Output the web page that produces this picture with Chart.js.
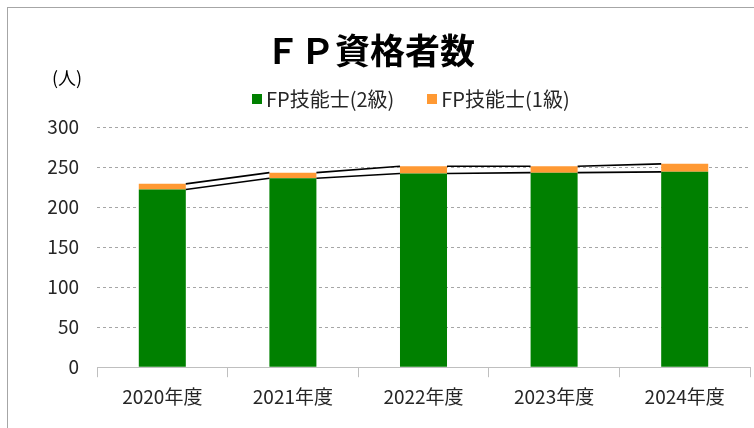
<!DOCTYPE html>
<html>
<head>
<meta charset="utf-8">
<script src="https://cdn.jsdelivr.net/npm/chart.js@4.4.1/dist/chart.umd.min.js"></script>
<style>
  html, body { margin: 0; padding: 0; background: #fff; overflow: hidden; }
  #wrap { position: relative; width: 754px; height: 428px; font-family: 'Noto Sans CJK JP', 'Noto Sans', sans-serif; color: #262626; }
  #wrap canvas { position: absolute; left: 0; top: 0; }
  .title { position: absolute; left: 0; width: 740px; top: 29px; line-height: 40px; text-align: center; font-size: 35px; font-weight: bold; color: #000; }
  .unit { position: absolute; left: 52px; top: 66px; line-height: 22px; font-size: 18px; color: #000; }
  .legend { position: absolute; left: 252px; top: 88px; display: flex; line-height: 22px; font-size: 20px; }
  .legend span.item { display: flex; align-items: center; margin-right: 33px; }
  .legend i { display: inline-block; width: 10px; height: 10px; margin-right: 4px; }
</style>
</head>
<body>
<div id="wrap">
  <canvas id="fpChart" width="754" height="428"></canvas>
  <div class="title">ＦＰ資格者数</div>
  <div class="unit">(人)</div>
  <div class="legend" id="legend"></div>
</div>
<script>
// data
const years = ['2020年度', '2021年度', '2022年度', '2023年度', '2024年度'];
const grade2 = [222, 236, 242, 243, 244];
const grade1 = [7, 7, 9, 8, 10];
const yTicks = [0, 50, 100, 150, 200, 250, 300];

const FONT = "'Noto Sans CJK JP', 'Noto Sans', sans-serif";
const TEXT = '#262626';

// outer frame
const framePlugin = {
    id: 'frame',
    beforeDraw(chart) {
        const ctx = chart.ctx;
        ctx.save();
        ctx.fillStyle = '#fff';
        ctx.fillRect(0, 0, chart.width, chart.height);
        ctx.strokeStyle = '#a6a6a6';
        ctx.lineWidth = 1;
        ctx.strokeRect(7.5, 7.5, 900, 600);
        ctx.restore();
    }
};

// Excel-style series lines between stacked bar tops
const seriesLines = {
    id: 'seriesLines',
    afterDatasetsDraw(chart) {
        const ctx = chart.ctx;
        ctx.save();
        ctx.strokeStyle = '#000';
        ctx.lineWidth = 1.6;
        chart.data.datasets.forEach((ds, di) => {
            const bars = chart.getDatasetMeta(di).data;
            for (let i = 0; i < bars.length - 1; i++) {
                const a = bars[i], b = bars[i + 1];
                ctx.beginPath();
                ctx.moveTo(a.x + a.width / 2, a.y);
                ctx.lineTo(b.x - b.width / 2, b.y);
                ctx.stroke();
            }
        });
        ctx.restore();
    }
};

const chart = new Chart(document.getElementById('fpChart'), {
    type: 'bar',
    data: {
        labels: years,
        datasets: [
            { label: 'FP技能士(2級)', data: grade2, backgroundColor: '#008000' },
            { label: 'FP技能士(1級)', data: grade1, backgroundColor: '#ff9933' }
        ]
    },
    options: {
        responsive: false,
        animation: false,
        layout: { padding: { left: 7, right: 4, top: 127, bottom: 12 } },
        datasets: { bar: { categoryPercentage: 1, barPercentage: 0.36 } },
        scales: {
            x: {
                stacked: true,
                grid: { drawOnChartArea: false, drawTicks: true, tickLength: 10, color: '#bfbfbf' },
                border: { display: true, color: '#bfbfbf' },
                ticks: { color: TEXT, font: { family: FONT, size: 19 }, padding: 8 }
            },
            y: {
                stacked: true,
                min: 0,
                max: 300,
                afterFit: s => { s.width = 90; },
                afterBuildTicks: s => { s.ticks = yTicks.map(v => ({ value: v })); },
                grid: { color: '#a6a6a6', drawTicks: false },
                border: { display: false, dash: [3, 3] },
                ticks: { color: TEXT, font: { family: FONT, size: 19 }, padding: 18 }
            }
        },
        plugins: {
            legend: { display: false },
            title: { display: false },
            tooltip: { enabled: false }
        }
    },
    plugins: [framePlugin, seriesLines]
});

// legend built from the chart's datasets
document.getElementById('legend').innerHTML = chart.data.datasets.map(ds =>
    `<span class="item"><i style="background:${ds.backgroundColor}"></i>${ds.label}</span>`
).join('');
</script>
</body>
</html>
